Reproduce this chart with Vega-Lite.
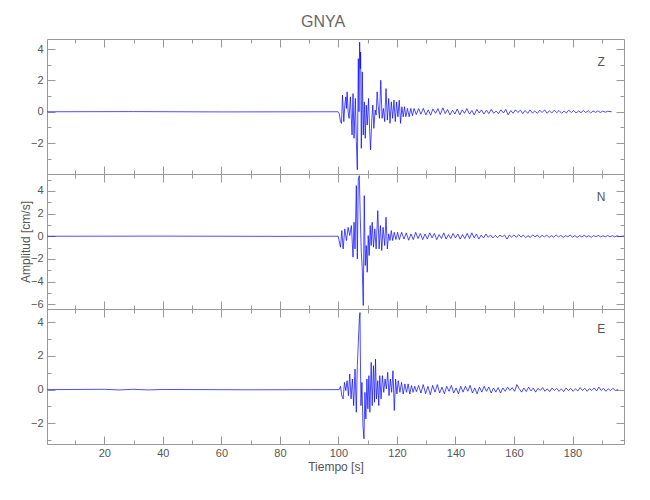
{
"$schema": "https://vega.github.io/schema/vega-lite/v6.json",
"background": "white",
"padding": {"left": 18, "top": 14, "right": 25, "bottom": 5},
"spacing": 0,
"bounds": "flush",
"title": {"text": "GNYA", "anchor": "middle", "fontSize": 16, "font": "Liberation Sans Narrow, Liberation Sans, sans-serif", "color": "#666", "fontWeight": "normal", "offset": 8},
"config": {
  "view": {"stroke": "#999", "strokeWidth": 1},
  "axis": {"domain": false, "grid": false, "tickColor": "#999", "labelColor": "#555", "labelFont": "Liberation Sans Narrow, Liberation Sans, sans-serif", "labelFontSize": 11, "titleFont": "Liberation Sans Narrow, Liberation Sans, sans-serif", "titleFontSize": 12, "titleColor": "#555", "titleFontWeight": "normal"}
},
"datasets": {
"Z": [
{"t":0.5,"v":0},{"t":30,"v":0.01},{"t":60,"v":-0.01},{"t":99.92,"v":0},
{"t":100.26,"v":-0.1},{"t":100.71,"v":-0.63},{"t":101.05,"v":-0.74},{"t":101.39,"v":1.06},{"t":101.84,"v":-0.63},{"t":102.18,"v":0.42},{"t":102.52,"v":0.95},{"t":102.74,"v":0.21},{"t":102.97,"v":1.27},{"t":103.31,"v":0},{"t":103.64,"v":-0.42},{"t":104.09,"v":0.95},{"t":104.66,"v":-1.48},{"t":104.99,"v":1.16},{"t":105.33,"v":-1.69},{"t":105.79,"v":0.85},{"t":106.12,"v":-1.9},{"t":106.46,"v":-3.7},{"t":106.8,"v":3.39},{"t":107.03,"v":0},{"t":107.25,"v":4.44},{"t":107.48,"v":2.75},{"t":107.59,"v":3.81},{"t":107.82,"v":-2.33},{"t":108.15,"v":2.54},{"t":108.49,"v":-1.48},{"t":108.83,"v":0.63},{"t":109.17,"v":-1.69},{"t":109.51,"v":0.42},{"t":109.85,"v":-0.85},{"t":110.3,"v":0.85},{"t":110.64,"v":-1.06},{"t":110.97,"v":-2.43},{"t":111.42,"v":-0.42},{"t":111.76,"v":0.42},{"t":112.1,"v":-1.06},{"t":112.55,"v":0.11},{"t":112.89,"v":-0.21},{"t":113.23,"v":1.27},{"t":113.57,"v":0.42},{"t":114.02,"v":-0.42},{"t":114.47,"v":2.01},{"t":114.92,"v":-0.42},{"t":115.37,"v":0.21},{"t":115.82,"v":-0.63},{"t":116.27,"v":1.48},{"t":116.72,"v":-0.53},{"t":117.18,"v":0.85},{"t":117.63,"v":-0.74},{"t":118.08,"v":0.63},{"t":118.53,"v":-0.42},{"t":118.98,"v":0.74},{"t":119.43,"v":-0.63},{"t":119.88,"v":0.63},{"t":120.33,"v":-0.32},{"t":120.78,"v":0.74},{"t":121.24,"v":-0.74},{"t":121.69,"v":0.32},{"t":122.14,"v":-0.32},{"t":122.59,"v":0.32},{"t":123.04,"v":-0.32},{"t":123.6,"v":0.21},{"t":124.17,"v":-0.32},{"t":124.73,"v":0.21},{"t":125.3,"v":-0.25},{"t":125.86,"v":0.21},
{"t":126.6,"v":-0.18},{"t":127.4,"v":0.2},{"t":128.2,"v":-0.15},{"t":129.0,"v":0.22},{"t":129.9,"v":-0.2},{"t":130.7,"v":0.12},{"t":131.5,"v":-0.22},{"t":132.3,"v":0.18},{"t":133.2,"v":-0.1},{"t":134.0,"v":0.2},{"t":134.8,"v":-0.18},{"t":135.7,"v":0.25},{"t":136.5,"v":-0.12},{"t":137.3,"v":0.15},{"t":138.1,"v":-0.2},{"t":139.0,"v":0.1},{"t":139.8,"v":-0.15},{"t":140.6,"v":0.18},{"t":141.5,"v":-0.2},{"t":142.3,"v":0.12},{"t":143.1,"v":-0.1},{"t":143.9,"v":0.2},{"t":144.8,"v":-0.15},{"t":145.6,"v":0.08},{"t":146.4,"v":-0.2},{"t":147.3,"v":0.15},{"t":148.1,"v":-0.08},{"t":148.9,"v":0.12},{"t":149.7,"v":-0.15},{"t":150.6,"v":0.1},{"t":151.4,"v":-0.12},{"t":152.2,"v":0.15},{"t":153.1,"v":-0.1},{"t":153.9,"v":0.05},{"t":154.7,"v":-0.12},{"t":155.5,"v":0.12},{"t":156.4,"v":-0.08},{"t":157.2,"v":0.15},{"t":158.0,"v":-0.2},{"t":158.9,"v":0.08},{"t":159.7,"v":-0.1},{"t":160.5,"v":0.12},{"t":161.3,"v":-0.05},{"t":162.2,"v":0.1},{"t":163.0,"v":-0.12},{"t":163.8,"v":0.08},{"t":164.7,"v":-0.1},{"t":165.5,"v":0.12},{"t":166.3,"v":-0.08},{"t":167.1,"v":0.05},{"t":168.0,"v":-0.1},{"t":168.8,"v":0.1},{"t":169.6,"v":-0.05},{"t":170.5,"v":0.12},{"t":171.3,"v":-0.1},{"t":172.1,"v":0.06},{"t":172.9,"v":-0.08},{"t":173.8,"v":0.1},{"t":174.6,"v":-0.06},{"t":175.4,"v":0.08},{"t":176.3,"v":-0.1},{"t":177.1,"v":0.05},{"t":177.9,"v":-0.08},{"t":178.7,"v":0.1},{"t":179.6,"v":-0.05},{"t":180.4,"v":0.08},{"t":181.2,"v":-0.08},{"t":182.1,"v":0.05},{"t":182.9,"v":-0.06},{"t":183.7,"v":0.08},{"t":184.5,"v":-0.05},{"t":185.4,"v":0.06},{"t":186.2,"v":-0.08},{"t":187.0,"v":0.05},{"t":187.9,"v":-0.04},{"t":188.7,"v":0.06},{"t":189.5,"v":-0.05},{"t":190.3,"v":0.04},{"t":191.2,"v":-0.03},{"t":192.0,"v":0.03},{"t":193.4,"v":0}
],
"N": [
{"t":0.5,"v":0},{"t":40,"v":0.01},{"t":80,"v":-0.01},{"t":99.92,"v":0},
{"t":100.71,"v":-0.97},{"t":101.16,"v":0.5},{"t":101.61,"v":-1.12},{"t":102.18,"v":0.65},{"t":102.74,"v":-0.38},{"t":103.31,"v":0.79},{"t":103.87,"v":0.06},{"t":104.43,"v":0.94},{"t":104.99,"v":-1.85},{"t":105.33,"v":1.24},{"t":105.67,"v":-1.12},{"t":106.12,"v":4.47},{"t":106.46,"v":-2.0},{"t":106.8,"v":5.06},{"t":107.14,"v":5.35},{"t":107.48,"v":1.53},{"t":107.82,"v":-1.41},{"t":108.15,"v":-2.88},{"t":108.49,"v":-6.12},{"t":108.83,"v":3.59},{"t":109.17,"v":-2.59},{"t":109.51,"v":-0.82},{"t":109.85,"v":-3.18},{"t":110.18,"v":0.06},{"t":110.52,"v":-1.71},{"t":110.86,"v":0.94},{"t":111.2,"v":-0.82},{"t":111.54,"v":1.24},{"t":111.99,"v":-0.97},{"t":112.44,"v":0.65},{"t":112.89,"v":-1.12},{"t":113.45,"v":2.26},{"t":113.91,"v":-1.12},{"t":114.36,"v":0.94},{"t":114.81,"v":-1.26},{"t":115.26,"v":0.79},{"t":115.82,"v":-0.82},{"t":116.27,"v":1.68},{"t":116.72,"v":-1.12},{"t":117.18,"v":0.21},{"t":117.63,"v":-0.38},{"t":118.08,"v":0.5},{"t":118.53,"v":-0.38},{"t":119.09,"v":0.35},{"t":119.66,"v":-0.29},{"t":120.22,"v":0.35},
{"t":120.8,"v":-0.3},{"t":121.6,"v":0.35},{"t":122.4,"v":-0.25},{"t":123.2,"v":0.3},{"t":124.0,"v":-0.35},{"t":124.8,"v":0.2},{"t":125.6,"v":-0.3},{"t":126.4,"v":0.35},{"t":127.2,"v":-0.2},{"t":128.0,"v":0.25},{"t":128.8,"v":-0.3},{"t":129.6,"v":0.2},{"t":130.4,"v":-0.25},{"t":131.2,"v":0.3},{"t":132.0,"v":-0.15},{"t":132.8,"v":0.25},{"t":133.6,"v":-0.3},{"t":134.4,"v":0.15},{"t":135.2,"v":-0.2},{"t":136.0,"v":0.3},{"t":136.8,"v":-0.25},{"t":137.6,"v":0.15},{"t":138.4,"v":-0.2},{"t":139.2,"v":0.25},{"t":140.0,"v":-0.15},{"t":140.8,"v":0.2},{"t":141.6,"v":-0.25},{"t":142.4,"v":0.15},{"t":143.2,"v":-0.2},{"t":144.0,"v":0.25},{"t":144.8,"v":-0.2},{"t":145.6,"v":0.3},{"t":146.4,"v":-0.15},{"t":147.2,"v":0.2},{"t":148.0,"v":-0.25},{"t":148.8,"v":0.1},{"t":149.6,"v":-0.15},{"t":150.4,"v":0.2},{"t":151.2,"v":-0.1},{"t":152.0,"v":0.12},{"t":152.8,"v":-0.15},{"t":153.6,"v":0.08},{"t":154.4,"v":-0.12},{"t":155.2,"v":0.1},{"t":156.0,"v":-0.05},{"t":156.8,"v":0.1},{"t":157.6,"v":-0.25},{"t":158.4,"v":0.1},{"t":159.2,"v":-0.08},{"t":160.0,"v":0.12},{"t":160.8,"v":-0.1},{"t":161.6,"v":0.15},{"t":162.4,"v":-0.08},{"t":163.2,"v":0.1},{"t":164.0,"v":-0.12},{"t":164.8,"v":0.05},{"t":165.6,"v":-0.1},{"t":166.4,"v":0.12},{"t":167.2,"v":-0.05},{"t":168.0,"v":0.1},{"t":168.8,"v":-0.12},{"t":169.6,"v":0.08},{"t":170.4,"v":-0.05},{"t":171.2,"v":0.1},{"t":172.0,"v":-0.1},{"t":172.8,"v":0.05},{"t":173.6,"v":-0.08},{"t":174.4,"v":0.12},{"t":175.2,"v":-0.06},{"t":176.0,"v":0.08},{"t":176.8,"v":-0.1},{"t":177.6,"v":0.05},{"t":178.4,"v":-0.05},{"t":179.2,"v":0.1},{"t":180.0,"v":-0.08},{"t":180.8,"v":0.06},{"t":181.6,"v":-0.1},{"t":182.4,"v":0.05},{"t":183.2,"v":-0.05},{"t":184.0,"v":0.08},{"t":184.8,"v":-0.06},{"t":185.6,"v":0.05},{"t":186.4,"v":-0.1},{"t":187.2,"v":0.06},{"t":188.0,"v":-0.04},{"t":188.8,"v":0.08},{"t":189.6,"v":-0.06},{"t":190.4,"v":0.04},{"t":191.2,"v":-0.05},{"t":192.0,"v":0.06},{"t":192.8,"v":-0.04},{"t":193.6,"v":0.05},{"t":194.4,"v":-0.06},{"t":195.2,"v":0.04},{"t":196.0,"v":-0.03},{"t":197.6,"v":0.02}
],
"E": [
{"t":0.5,"v":0},{"t":20,"v":0.02},{"t":25,"v":-0.02},{"t":30,"v":0.02},{"t":35,"v":-0.02},{"t":40,"v":0.01},{"t":70,"v":-0.01},{"t":100.26,"v":0},
{"t":100.71,"v":0.2},{"t":101.16,"v":-0.36},{"t":101.61,"v":-0.55},{"t":102.06,"v":0.43},{"t":102.52,"v":-0.06},{"t":102.97,"v":0.53},{"t":103.42,"v":-0.36},{"t":103.87,"v":0.93},{"t":104.32,"v":-0.55},{"t":104.77,"v":0.63},{"t":105.22,"v":-0.95},{"t":105.67,"v":1.22},{"t":106.12,"v":-1.34},{"t":106.46,"v":1.42},{"t":106.8,"v":2.8},{"t":107.14,"v":4.18},{"t":107.37,"v":4.58},{"t":107.48,"v":2.41},{"t":107.7,"v":-0.95},{"t":108.04,"v":0.43},{"t":108.38,"v":-2.13},{"t":108.72,"v":-2.92},{"t":109.06,"v":-0.16},{"t":109.39,"v":-1.74},{"t":109.73,"v":0.63},{"t":110.07,"v":-1.14},{"t":110.41,"v":0.83},{"t":110.75,"v":-1.34},{"t":111.2,"v":1.62},{"t":111.54,"v":-0.95},{"t":111.99,"v":1.42},{"t":112.33,"v":-0.75},{"t":112.67,"v":1.81},{"t":113.0,"v":-0.55},{"t":113.45,"v":0.53},{"t":113.79,"v":-0.95},{"t":114.13,"v":0.83},{"t":114.58,"v":-0.55},{"t":115.03,"v":0.83},{"t":115.48,"v":-0.16},{"t":115.94,"v":0.63},{"t":116.39,"v":0.04},{"t":116.84,"v":1.03},{"t":117.29,"v":-0.36},{"t":117.74,"v":0.63},{"t":118.19,"v":-0.16},{"t":118.64,"v":1.12},{"t":119.09,"v":-1.24},{"t":119.54,"v":0.63},{"t":119.99,"v":-0.26},{"t":120.45,"v":0.53},{"t":121.01,"v":-0.16},{"t":121.57,"v":0.43},{"t":122.14,"v":-0.26},{"t":122.7,"v":0.34},{"t":123.27,"v":-0.16},{"t":123.83,"v":0.34},{"t":124.39,"v":-0.26},{"t":124.96,"v":0.24},{"t":125.52,"v":-0.16},{"t":126.08,"v":0.2},{"t":126.65,"v":-0.12},
{"t":127.4,"v":0.25},{"t":128.2,"v":-0.2},{"t":129.0,"v":0.3},{"t":129.8,"v":-0.25},{"t":130.6,"v":0.2},{"t":131.4,"v":-0.3},{"t":132.2,"v":0.25},{"t":133.0,"v":-0.15},{"t":133.8,"v":0.3},{"t":134.6,"v":-0.2},{"t":135.4,"v":0.15},{"t":136.2,"v":-0.25},{"t":137.0,"v":0.2},{"t":137.8,"v":-0.1},{"t":138.6,"v":0.25},{"t":139.4,"v":-0.2},{"t":140.2,"v":0.1},{"t":141.0,"v":-0.25},{"t":141.8,"v":0.2},{"t":142.6,"v":-0.15},{"t":143.4,"v":0.2},{"t":144.2,"v":-0.1},{"t":145.0,"v":0.25},{"t":145.8,"v":-0.2},{"t":146.6,"v":0.1},{"t":147.4,"v":-0.25},{"t":148.2,"v":0.15},{"t":149.0,"v":-0.15},{"t":149.8,"v":0.2},{"t":150.6,"v":-0.1},{"t":151.4,"v":0.15},{"t":152.2,"v":-0.2},{"t":153.0,"v":0.1},{"t":153.8,"v":-0.15},{"t":154.6,"v":0.12},{"t":155.4,"v":-0.2},{"t":156.2,"v":0.1},{"t":157.0,"v":-0.1},{"t":157.8,"v":0.15},{"t":158.6,"v":-0.05},{"t":159.4,"v":0.12},{"t":160.2,"v":-0.1},{"t":161.0,"v":0.3},{"t":161.8,"v":0.05},{"t":162.6,"v":-0.15},{"t":163.4,"v":0.1},{"t":164.2,"v":-0.12},{"t":165.0,"v":0.15},{"t":165.8,"v":-0.08},{"t":166.6,"v":0.1},{"t":167.4,"v":-0.15},{"t":168.2,"v":0.08},{"t":169.0,"v":-0.05},{"t":169.8,"v":0.12},{"t":170.6,"v":-0.1},{"t":171.4,"v":0.05},{"t":172.2,"v":-0.12},{"t":173.0,"v":0.1},{"t":173.8,"v":-0.05},{"t":174.6,"v":0.08},{"t":175.4,"v":-0.1},{"t":176.2,"v":0.05},{"t":177.0,"v":-0.12},{"t":177.8,"v":0.1},{"t":178.6,"v":-0.06},{"t":179.4,"v":0.08},{"t":180.2,"v":-0.1},{"t":181.0,"v":0.05},{"t":181.8,"v":-0.08},{"t":182.6,"v":0.12},{"t":183.4,"v":-0.05},{"t":184.2,"v":0.08},{"t":185.0,"v":-0.1},{"t":185.8,"v":0.06},{"t":186.6,"v":-0.05},{"t":187.4,"v":0.1},{"t":188.2,"v":-0.08},{"t":189.0,"v":0.15},{"t":189.8,"v":-0.05},{"t":190.6,"v":0.08},{"t":191.4,"v":-0.1},{"t":192.2,"v":0.05},{"t":193.0,"v":-0.06},{"t":193.8,"v":0.08},{"t":194.6,"v":-0.05},{"t":195.6,"v":0}
]
},
"vconcat": [
{
  "width": 577, "height": 135,
  "data": {"name": "Z"},
  "layer": [
    {"mark": {"type": "line", "stroke": "#0000ff", "strokeWidth": 0.7, "clip": true},
     "encoding": {
       "x": {"field": "t", "type": "quantitative", "scale": {"domain": [0.4, 197.6], "nice": false, "zero": false},
             "axis": {"orient": "bottom", "title": null, "labels": false, "values": [10,20,30,40,50,60,70,80,90,100,110,120,130,140,150,160,170,180,190], "tickSize": {"condition": {"test": "datum.value % 20 == 0", "value": -8}, "value": -4}}},
       "y": {"field": "v", "type": "quantitative", "scale": {"domain": [-3.97, 4.64], "nice": false, "zero": false},
             "axis": {"orient": "left", "title": null, "values": [-3,-2,-1,0,1,2,3,4], "labelExpr": "datum.value % 2 == 0 ? datum.label : ''", "labelPadding": 12, "tickSize": {"condition": {"test": "datum.value % 2 == 0", "value": -8}, "value": -4}}}
     }},
    {"mark": {"type": "point", "opacity": 0},
     "encoding": {
       "x": {"field": "t", "type": "quantitative", "axis": {"orient": "top", "title": null, "labels": false, "values": [10,20,30,40,50,60,70,80,90,100,110,120,130,140,150,160,170,180,190], "tickSize": {"condition": {"test": "datum.value % 20 == 0", "value": -8}, "value": -4}}},
       "y": {"field": "v", "type": "quantitative", "axis": {"orient": "right", "title": null, "labels": false, "values": [-3,-2,-1,0,1,2,3,4], "tickSize": {"condition": {"test": "datum.value % 2 == 0", "value": -8}, "value": -4}}}
     }},
    {"data": {"values": [{"label": "Z"}]},
     "mark": {"type": "text", "font": "Liberation Sans Narrow, Liberation Sans, sans-serif", "fontSize": 12, "fill": "#555"},
     "encoding": {"x": {"datum": 189.8, "type": "quantitative", "axis": null}, "y": {"datum": 3.2, "type": "quantitative", "axis": null}, "text": {"field": "label"}}}
  ],
  "resolve": {"axis": {"x": "independent", "y": "independent"}}
},
{
  "width": 577, "height": 135,
  "data": {"name": "N"},
  "layer": [
    {"mark": {"type": "line", "stroke": "#0000ff", "strokeWidth": 0.7, "clip": true},
     "encoding": {
       "x": {"field": "t", "type": "quantitative", "scale": {"domain": [0.4, 197.6], "nice": false, "zero": false},
             "axis": {"orient": "bottom", "title": null, "labels": false, "values": [10,20,30,40,50,60,70,80,90,100,110,120,130,140,150,160,170,180,190], "tickSize": {"condition": {"test": "datum.value % 20 == 0", "value": -8}, "value": -4}}},
       "y": {"field": "v", "type": "quantitative", "scale": {"domain": [-6.43, 5.5], "nice": false, "zero": false},
             "axis": {"orient": "left", "title": "Amplitud  [cm/s]", "titlePadding": -2, "values": [-6,-5,-4,-3,-2,-1,0,1,2,3,4,5], "labelExpr": "datum.value % 2 == 0 ? datum.label : ''", "labelPadding": 12, "tickSize": {"condition": {"test": "datum.value % 2 == 0", "value": -8}, "value": -4}}}
     }},
    {"mark": {"type": "point", "opacity": 0},
     "encoding": {
       "x": {"field": "t", "type": "quantitative", "axis": {"orient": "top", "title": null, "labels": false, "values": [10,20,30,40,50,60,70,80,90,100,110,120,130,140,150,160,170,180,190], "tickSize": {"condition": {"test": "datum.value % 20 == 0", "value": -8}, "value": -4}}},
       "y": {"field": "v", "type": "quantitative", "axis": {"orient": "right", "title": null, "labels": false, "values": [-6,-5,-4,-3,-2,-1,0,1,2,3,4,5], "tickSize": {"condition": {"test": "datum.value % 2 == 0", "value": -8}, "value": -4}}}
     }},
    {"data": {"values": [{"label": "N"}]},
     "mark": {"type": "text", "font": "Liberation Sans Narrow, Liberation Sans, sans-serif", "fontSize": 12, "fill": "#555"},
     "encoding": {"x": {"datum": 189.8, "type": "quantitative", "axis": null}, "y": {"datum": 3.5, "type": "quantitative", "axis": null}, "text": {"field": "label"}}}
  ],
  "resolve": {"axis": {"x": "independent", "y": "independent"}}
},
{
  "width": 577, "height": 135,
  "data": {"name": "E"},
  "layer": [
    {"mark": {"type": "line", "stroke": "#0000ff", "strokeWidth": 0.7, "clip": true},
     "encoding": {
       "x": {"field": "t", "type": "quantitative", "scale": {"domain": [0.4, 197.6], "nice": false, "zero": false},
             "axis": {"orient": "bottom", "title": "Tiempo  [s]", "titlePadding": 3, "values": [10,20,30,40,50,60,70,80,90,100,110,120,130,140,150,160,170,180,190], "labelExpr": "datum.value % 20 == 0 ? datum.label : ''", "labelPadding": 11, "tickSize": {"condition": {"test": "datum.value % 20 == 0", "value": -8}, "value": -4}}},
       "y": {"field": "v", "type": "quantitative", "scale": {"domain": [-3.23, 4.79], "nice": false, "zero": false},
             "axis": {"orient": "left", "title": null, "values": [-3,-2,-1,0,1,2,3,4], "labelExpr": "datum.value % 2 == 0 ? datum.label : ''", "labelPadding": 12, "tickSize": {"condition": {"test": "datum.value % 2 == 0", "value": -8}, "value": -4}}}
     }},
    {"mark": {"type": "point", "opacity": 0},
     "encoding": {
       "x": {"field": "t", "type": "quantitative", "axis": {"orient": "top", "title": null, "labels": false, "values": [10,20,30,40,50,60,70,80,90,100,110,120,130,140,150,160,170,180,190], "tickSize": {"condition": {"test": "datum.value % 20 == 0", "value": -8}, "value": -4}}},
       "y": {"field": "v", "type": "quantitative", "axis": {"orient": "right", "title": null, "labels": false, "values": [-3,-2,-1,0,1,2,3,4], "tickSize": {"condition": {"test": "datum.value % 2 == 0", "value": -8}, "value": -4}}}
     }},
    {"data": {"values": [{"label": "E"}]},
     "mark": {"type": "text", "font": "Liberation Sans Narrow, Liberation Sans, sans-serif", "fontSize": 12, "fill": "#555"},
     "encoding": {"x": {"datum": 189.8, "type": "quantitative", "axis": null}, "y": {"datum": 3.6, "type": "quantitative", "axis": null}, "text": {"field": "label"}}}
  ],
  "resolve": {"axis": {"x": "independent", "y": "independent"}}
}
]
}
